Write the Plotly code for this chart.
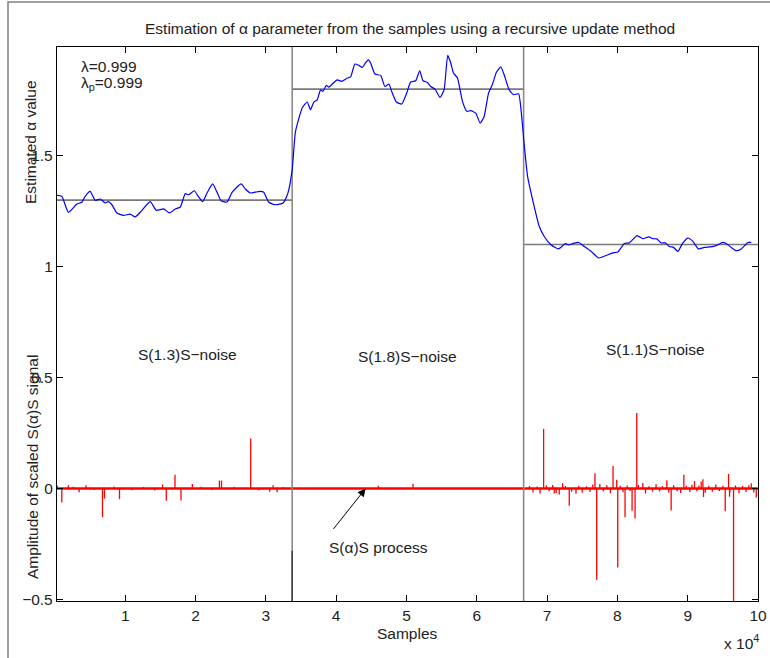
import plotly.graph_objects as go

# ---------------- data ----------------
# estimated alpha (blue curve)
alpha_x = [270, 980, 1920, 3119, 3831, 4301, 5013, 5726, 6438, 7151, 7621, 8105, 8818, 9758,
           10712, 11425, 12137, 13562, 14416, 15456, 16311, 17123, 17836, 18548, 19018, 19830,
           20443, 21013, 21640, 22438, 23064, 23634, 24489, 25202, 26484, 27096, 27809, 28521,
           29233, 29703, 30416, 31370, 32467, 33122, 33750,
           34220, 35174, 35887, 36357, 36827, 37312, 37782, 38110, 38594, 38964, 39449, 40161,
           40774, 41586, 42056, 42669, 43238, 43723, 44051, 44578, 44905, 45518, 46330, 46943,
           47512, 47897, 48567, 49322, 49991, 50604, 51316, 51886, 52356, 52983, 53453, 54066,
           54778, 55348, 55875, 56303, 56688, 57257, 57970, 58582, 59152, 59865, 60477, 61047,
           61674, 62244, 62813, 63426, 63896, 64608, 65235, 65948, 66318, 66746,
           67231, 67943, 68883, 69596, 70549, 71646, 72587, 73071, 73727, 74496, 75294, 76248,
           77345, 78385, 79340, 80052, 80992, 81705, 82802, 83614, 84469, 85039, 85609, 86222,
           86791, 87404, 87974, 88600, 89313, 90025, 90738, 91536, 92391, 93246, 94058, 95012,
           95725, 96295, 96907, 97620, 98574, 99044]
alpha_y = [1.321, 1.317, 1.245, 1.282, 1.290, 1.317, 1.339, 1.299, 1.305, 1.287, 1.293, 1.279,
           1.242, 1.231, 1.237, 1.224, 1.245, 1.293, 1.254, 1.260, 1.242, 1.260, 1.269, 1.329,
           1.324, 1.342, 1.314, 1.293, 1.332, 1.373, 1.335, 1.297, 1.291, 1.335, 1.373, 1.350,
           1.332, 1.336, 1.339, 1.335, 1.290, 1.279, 1.287, 1.329, 1.437,
           1.609, 1.715, 1.742, 1.707, 1.742, 1.752, 1.797, 1.790, 1.817, 1.809, 1.823, 1.842,
           1.835, 1.850, 1.855, 1.913, 1.907, 1.898, 1.913, 1.932, 1.918, 1.868, 1.862, 1.812,
           1.823, 1.790, 1.742, 1.733, 1.778, 1.832, 1.838, 1.883, 1.838, 1.830, 1.812, 1.800,
           1.763, 1.797, 1.952, 1.918, 1.873, 1.850, 1.745, 1.700, 1.703, 1.692, 1.647, 1.677,
           1.782, 1.823, 1.877, 1.900, 1.865, 1.797, 1.775, 1.779, 1.700, 1.550,
           1.407, 1.302, 1.182, 1.136, 1.099, 1.080, 1.104, 1.098, 1.105, 1.109, 1.091, 1.069,
           1.039, 1.050, 1.062, 1.066, 1.104, 1.107, 1.140, 1.126, 1.134, 1.126, 1.125, 1.107,
           1.107, 1.091, 1.087, 1.069, 1.107, 1.129, 1.114, 1.080, 1.087, 1.089, 1.095, 1.109,
           1.099, 1.084, 1.072, 1.080, 1.109, 1.109]

# true alpha for each segment
seg_start = [300, 33750, 66667]
seg_end = [33750, 66667, 100000]
seg_alpha = [1.3, 1.8, 1.1]
seg_labels = ["S(1.3)S\u2212noise", "S(1.8)S\u2212noise", "S(1.1)S\u2212noise"]

# S(alpha)S signal spikes (sample, amplitude)
spike_x = [355, 982, 1922, 3446, 4443, 6766, 7051, 9188, 15314, 15841, 17081, 17936, 19546,
           23400, 23700, 27852, 30559, 31043, 31613, 46000, 50933,
           69510, 71020, 71733, 72216, 73157, 74110, 76816, 77058, 77500, 79382, 79909, 80052,
           81091, 82089, 82516, 82758, 83614, 87035, 87647, 89456, 90966, 91922, 92163, 92250,
           95339, 95810, 95952, 96523, 99044, 99756]
spike_a = [0.012, -0.063, 0.015, -0.017, 0.015, -0.129, -0.045, -0.048, 0.018, -0.055, 0.062,
           -0.054, 0.020, 0.036, 0.036, 0.225, -0.015, 0.015, -0.017, 0.013, 0.022,
           0.269, -0.022, -0.027, 0.024, -0.078, -0.024, 0.069, -0.411, 0.020, 0.102, 0.040,
           -0.356, -0.129, -0.100, -0.135, 0.340, 0.025, 0.037, -0.099, 0.062, 0.034, 0.032,
           0.042, -0.038, -0.103, 0.066, -0.037, -0.600, 0.024, -0.040]
noise_x = [2600, 5600, 8400, 11000, 12600, 14200, 20800, 22300, 25500, 29000, 32500,
           67500, 68000, 68600, 69000, 69900, 70300, 70800, 71300, 72600, 73500, 74500, 75000,
           75600, 76100, 76500, 78000, 78500, 79000, 80400, 80800, 81400, 81800, 83000, 84000,
           84500, 85000, 85500, 86000, 86400, 87300, 88000, 88500, 89000, 89800, 90300, 90600,
           91300, 91600, 92500, 93000, 93500, 94000, 94500, 95000, 96000, 96800, 97300, 97800,
           98300, 98700, 99400]
noise_a = [0.008, -0.007, 0.009, -0.008, 0.007, -0.009, 0.008, -0.007, 0.008, -0.008, 0.007,
           0.012, -0.018, 0.009, -0.022, 0.014, -0.012, 0.016, -0.020, 0.011, -0.015, 0.013,
           -0.019, 0.010, -0.016, 0.018, -0.012, 0.015, -0.021, 0.012, -0.017, 0.014, -0.011,
           0.016, -0.022, 0.010, -0.014, 0.019, -0.013, 0.011, -0.018, 0.015, -0.012, -0.020,
           0.013, -0.016, 0.017, -0.012, 0.014, -0.019, 0.012, -0.015, 0.018, -0.011, 0.013,
           -0.017, 0.014, -0.021, 0.012, -0.016, 0.015, -0.018]

x_ticks = [10000, 20000, 30000, 40000, 50000, 60000, 70000, 80000, 90000, 100000]
x_tick_text = ["1", "2", "3", "4", "5", "6", "7", "8", "9", "10"]
y_ticks = [-0.5, 0, 0.5, 1, 1.5]
y_tick_text = ["\u22120.5", "0", "0.5", "1", "1.5"]

X_RANGE = [300, 100000]
Y_RANGE = [-0.507, 1.99]

FONT = "Liberation Sans, Arial, Helvetica, sans-serif"
FS = 15.5
TXT = "#222222"

fig = go.Figure()

# red signal: baseline + spikes
fig.add_trace(go.Scatter(x=[X_RANGE[0], 100000], y=[0, 0], mode="lines",
                         line=dict(color="#ff0000", width=2.4), hoverinfo="skip",
                         showlegend=False))
sx, sy = [], []
for xv, av in list(zip(spike_x, spike_a)) + list(zip(noise_x, noise_a)):
    sx += [xv, xv, None]
    sy += [0, av, None]
fig.add_trace(go.Scatter(x=sx, y=sy, mode="lines", line=dict(color="#ff0000", width=1.3),
                         hoverinfo="skip", showlegend=False, cliponaxis=True))

# segment reference lines (gray)
for s, e, a in zip(seg_start, seg_end, seg_alpha):
    fig.add_trace(go.Scatter(x=[s, e], y=[a, a], mode="lines",
                             line=dict(color="#7a7a7a", width=1.6),
                             hoverinfo="skip", showlegend=False))
for b in seg_end[:2]:
    fig.add_trace(go.Scatter(x=[b, b], y=Y_RANGE, mode="lines",
                             line=dict(color="#8a8a8a", width=1.6),
                             hoverinfo="skip", showlegend=False))
fig.add_trace(go.Scatter(x=[seg_end[0], seg_end[0]], y=[Y_RANGE[0], -0.28], mode="lines",
                         line=dict(color="#444444", width=1.6),
                         hoverinfo="skip", showlegend=False))

# blue estimate
fig.add_trace(go.Scatter(x=alpha_x, y=alpha_y, mode="lines",
                         line=dict(color="#0000ff", width=1.2, shape="spline", smoothing=0.5),
                         hoverinfo="skip", showlegend=False))

W, H = 770, 658
L, R, T, B = 57, 12, 47, 57
pw, ph = W - L - R, H - T - B


def px_x(p):
    return (p - L) / pw


def px_y(p):
    return (H - B - p) / ph


def pann(text, x, y, xanchor="center", angle=0, size=FS):
    return dict(text=text, x=px_x(x), y=px_y(y), xref="paper", yref="paper",
                xanchor=xanchor, yanchor="middle", textangle=angle, showarrow=False,
                font=dict(size=size, color=TXT, family=FONT))


ann = []
ann.append(pann("Estimation of \u03b1 parameter from the samples using a recursive update method",
                410, 29))
ann.append(pann("Samples", 407, 633))
ann.append(pann("x 10<sup>4</sup>", 722, 642, xanchor="left"))
ann.append(pann("Estimated \u03b1 value", 30, 142, angle=-90))
ann.append(pann("Amplitude of scaled S(\u03b1)S signal", 32, 467, angle=-90))


def dann(text, x, y, xanchor="center"):
    return dict(text=text, x=x, y=y, xref="x", yref="y", xanchor=xanchor, yanchor="middle",
                showarrow=False, font=dict(size=FS, color=TXT, family=FONT))


ann.append(dann("\u03bb=0.999", 3450, 1.901, xanchor="left"))
ann.append(dann("\u03bb<sub>p</sub>=0.999", 3450, 1.826, xanchor="left"))
for lx, ly, t in zip([18833, 50177, 85367], [0.604, 0.595, 0.626], seg_labels):
    ann.append(dann(t, lx, ly))
ann.append(dann("S(\u03b1)S process", 46045, -0.266))
ann.append(dict(text="", x=44193, y=0.0, xref="x", yref="y", ax=39449, ay=-0.189,
                axref="x", ayref="y", showarrow=True, arrowhead=2, arrowsize=1.6,
                arrowwidth=1, arrowcolor="#000000", standoff=0))

shapes = [dict(type="rect", xref="paper", yref="paper", x0=px_x(8), x1=px_x(775),
               y0=px_y(2), y1=px_y(665), line=dict(color="#808080", width=1.5),
               fillcolor="rgba(0,0,0,0)", layer="below")]

axis_common = dict(showgrid=False, zeroline=False, showline=True, linecolor="#000000",
                   linewidth=1.3, mirror="ticks", ticks="inside", ticklen=6,
                   tickcolor="#000000", tickwidth=1, automargin=False,
                   tickfont=dict(size=FS, color=TXT, family=FONT))

fig.update_layout(
    width=W, height=H,
    margin=dict(l=L, r=R, t=T, b=B, pad=0, autoexpand=False),
    paper_bgcolor="white", plot_bgcolor="white",
    font=dict(family=FONT, color=TXT),
    xaxis=dict(range=X_RANGE, tickvals=x_ticks, ticktext=x_tick_text, **axis_common),
    yaxis=dict(range=Y_RANGE, tickvals=y_ticks, ticktext=y_tick_text, **axis_common),
    annotations=ann,
    shapes=shapes,
    showlegend=False,
)

fig.write_html("out.html")
